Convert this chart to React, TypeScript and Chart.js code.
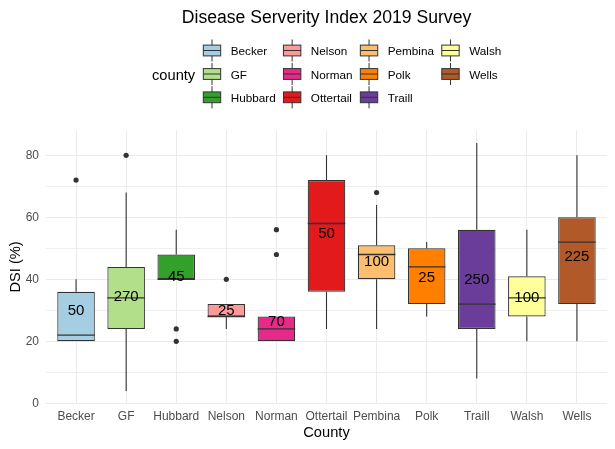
import React, { useEffect, useRef } from "react";
import { Chart, registerables } from "chart.js";

Chart.register(...registerables);

const categories = ["Becker", "GF", "Hubbard", "Nelson", "Norman", "Ottertail", "Pembina", "Polk", "Traill", "Walsh", "Wells"];
const colors = ["#A6CEE3", "#B2DF8A", "#33A02C", "#FB9A99", "#E7298A", "#E31A1C", "#FDBF6F", "#FF7F00", "#6A3D9A", "#FFFF99", "#B15928"];
const whiskerLow = [20, 4, 40, 24, 20, 24, 24, 28, 8, 20, 20];
const q1 = [20, 24, 40, 28, 20, 36, 40, 32, 24, 28, 32];
const median = [22, 34, 40, 28, 24, 58, 48, 44, 32, 34, 52];
const q3 = [36, 44, 48, 32, 28, 72, 51, 50, 56, 41, 60];
const whiskerHigh = [40, 68, 56, 32, 28, 80, 64, 52, 84, 56, 80];
const outliers: number[][] = [[72], [80], [24, 20], [40], [56, 48], [], [68], [], [], [], []];
const counts = ["50", "270", "45", "25", "70", "50", "100", "25", "250", "100", "225"];
const labelY = [30, 34.7, 41, 30, 26.6, 55, 46, 40.8, 40.3, 34.4, 47.6];
const yTicks = [0, 10, 20, 30, 40, 50, 60, 70, 80];

const FONT = "'Liberation Sans', Arial, Helvetica, sans-serif";

export default function App() {
  const ref = useRef<HTMLCanvasElement>(null);

  useEffect(() => {
    const canvas = ref.current;
    if (!canvas) return;
    const xs = categories.map((_, i) => i + 1);

    const boxPlugin = {
      id: "boxExtras",
      beforeDatasetsDraw(chart: any) {
        const { ctx, scales } = chart;
        const x = scales.x, y = scales.y;
        ctx.save();
        ctx.strokeStyle = "#333333";
        ctx.lineWidth = 1.1;
        xs.forEach((xv, i) => {
          const px = x.getPixelForValue(xv);
          ctx.beginPath();
          ctx.moveTo(px, y.getPixelForValue(whiskerHigh[i]));
          ctx.lineTo(px, y.getPixelForValue(q3[i]));
          ctx.moveTo(px, y.getPixelForValue(q1[i]));
          ctx.lineTo(px, y.getPixelForValue(whiskerLow[i]));
          ctx.stroke();
        });
        ctx.restore();
      },
      afterDatasetsDraw(chart: any) {
        const { ctx, scales } = chart;
        const x = scales.x, y = scales.y;
        const meta = chart.getDatasetMeta(0);
        ctx.save();
        ctx.strokeStyle = "#333333";
        ctx.lineWidth = 1.3;
        xs.forEach((xv, i) => {
          const px = x.getPixelForValue(xv);
          const hw = meta.data[i].width / 2;
          const py = y.getPixelForValue(median[i]);
          ctx.beginPath();
          ctx.moveTo(px - hw, py);
          ctx.lineTo(px + hw, py);
          ctx.stroke();
        });
        ctx.fillStyle = "#000000";
        ctx.font = `15px ${FONT}`;
        ctx.textAlign = "center";
        ctx.textBaseline = "middle";
        xs.forEach((xv, i) => {
          ctx.fillText(counts[i], x.getPixelForValue(xv), y.getPixelForValue(labelY[i]) + 1);
        });
        ctx.restore();
      },
      afterDraw(chart: any) {
        const { ctx, chartArea } = chart;
        ctx.save();
        // title
        ctx.fillStyle = "#000000";
        ctx.font = `17.6px ${FONT}`;
        ctx.textAlign = "center";
        ctx.textBaseline = "alphabetic";
        ctx.fillText("Disease Serverity Index 2019 Survey", (chartArea.left + chartArea.right) / 2, 23);

        // legend
        ctx.textAlign = "left";
        ctx.font = `14.67px ${FONT}`;
        ctx.fillText("county", 152, 79.5);
        ctx.font = `11.73px ${FONT}`;
        const rowC = [50.5, 74, 97.3];
        const keyW = 17.4, keyH = 10.8;
        let colX = 203.3;
        const nCols = Math.ceil(categories.length / 3);
        for (let c = 0; c < nCols; c++) {
          let maxW = 0;
          for (let r = 0; r < 3; r++) {
            const i = c * 3 + r;
            if (i >= categories.length) break;
            const cy = rowC[r];
            const cx = colX + keyW / 2;
            ctx.strokeStyle = "#333333";
            ctx.lineWidth = 1;
            ctx.beginPath();
            ctx.moveTo(cx, cy - 11);
            ctx.lineTo(cx, cy + 11);
            ctx.stroke();
            ctx.fillStyle = colors[i];
            ctx.fillRect(colX, cy - keyH / 2, keyW, keyH);
            ctx.strokeRect(colX, cy - keyH / 2, keyW, keyH);
            ctx.beginPath();
            ctx.moveTo(colX, cy);
            ctx.lineTo(colX + keyW, cy);
            ctx.stroke();
            ctx.fillStyle = "#000000";
            ctx.fillText(categories[i], colX + 27.4, cy + 4.6);
            maxW = Math.max(maxW, ctx.measureText(categories[i]).width);
          }
          colX = colX + 27.4 + maxW + 7.8;
        }
        ctx.restore();
      },
    };

    const chart = new Chart(canvas, {
      type: "bar",
      data: {
        datasets: [
          {
            type: "bar",
            data: xs.map((xv, i) => ({ x: xv, y: [q1[i], q3[i]] })) as any,
            backgroundColor: colors,
            borderColor: "#333333",
            borderWidth: 1.2,
            borderSkipped: false,
            barPercentage: 0.75,
            categoryPercentage: 1,
          } as any,
          {
            type: "scatter",
            data: outliers.flatMap((arr, i) => arr.map((v) => ({ x: i + 1, y: v }))),
            pointRadius: 2.6,
            pointBackgroundColor: "#333333",
            pointBorderWidth: 0,
          } as any,
        ],
      },
      options: {
        animation: false,
        responsive: false,
        maintainAspectRatio: false,
        layout: { padding: { top: 130.5, right: 8, left: 0, bottom: 0 } },
        plugins: { legend: { display: false }, tooltip: { enabled: false }, title: { display: false } },
        scales: {
          x: {
            type: "linear",
            min: 0.4,
            max: 11.6,
            offset: false,
            afterBuildTicks: (s: any) => {
              s.ticks = xs.map((v) => ({ value: v }));
            },
            afterFit: (s: any) => {
              s.height = 45.7;
            },
            ticks: {
              callback: (v: any) => categories[Math.round(Number(v)) - 1] ?? "",
              color: "#4D4D4D",
              font: { family: FONT, size: 12 },
              padding: 6,
              maxRotation: 0,
              autoSkip: false,
            },
            grid: { color: "#EBEBEB", lineWidth: 1, drawTicks: false, offset: false },
            border: { display: false },
            title: {
              display: true,
              text: "County",
              color: "#000000",
              font: { family: FONT, size: 14.67 },
              padding: { top: 0, bottom: 7 },
            },
          } as any,
          y: {
            type: "linear",
            min: 0,
            max: 88,
            afterBuildTicks: (s: any) => {
              s.ticks = yTicks.map((v) => ({ value: v }));
            },
            afterFit: (s: any) => {
              s.width = 46;
            },
            ticks: {
              callback: (v: any) => (Number(v) % 20 === 0 ? String(v) : ""),
              color: "#4D4D4D",
              font: { family: FONT, size: 12 },
              padding: 7,
            },
            grid: {
              color: "#EBEBEB",
              lineWidth: (c: any) => (c.tick && c.tick.value % 20 === 0 ? 1.1 : 0.8),
              drawTicks: false,
            },
            border: { display: false },
            title: {
              display: true,
              text: "DSI (%)",
              color: "#000000",
              font: { family: FONT, size: 14.67 },
              padding: { top: 7, bottom: 0 },
            },
          } as any,
        },
      },
      plugins: [boxPlugin],
    });

    return () => chart.destroy();
  }, []);

  return (
    <div style={{ position: "absolute", left: 0, top: 0, width: 615, height: 449, background: "#ffffff" }}>
      <canvas ref={ref} width={615} height={449} style={{ display: "block" }} />
    </div>
  );
}
